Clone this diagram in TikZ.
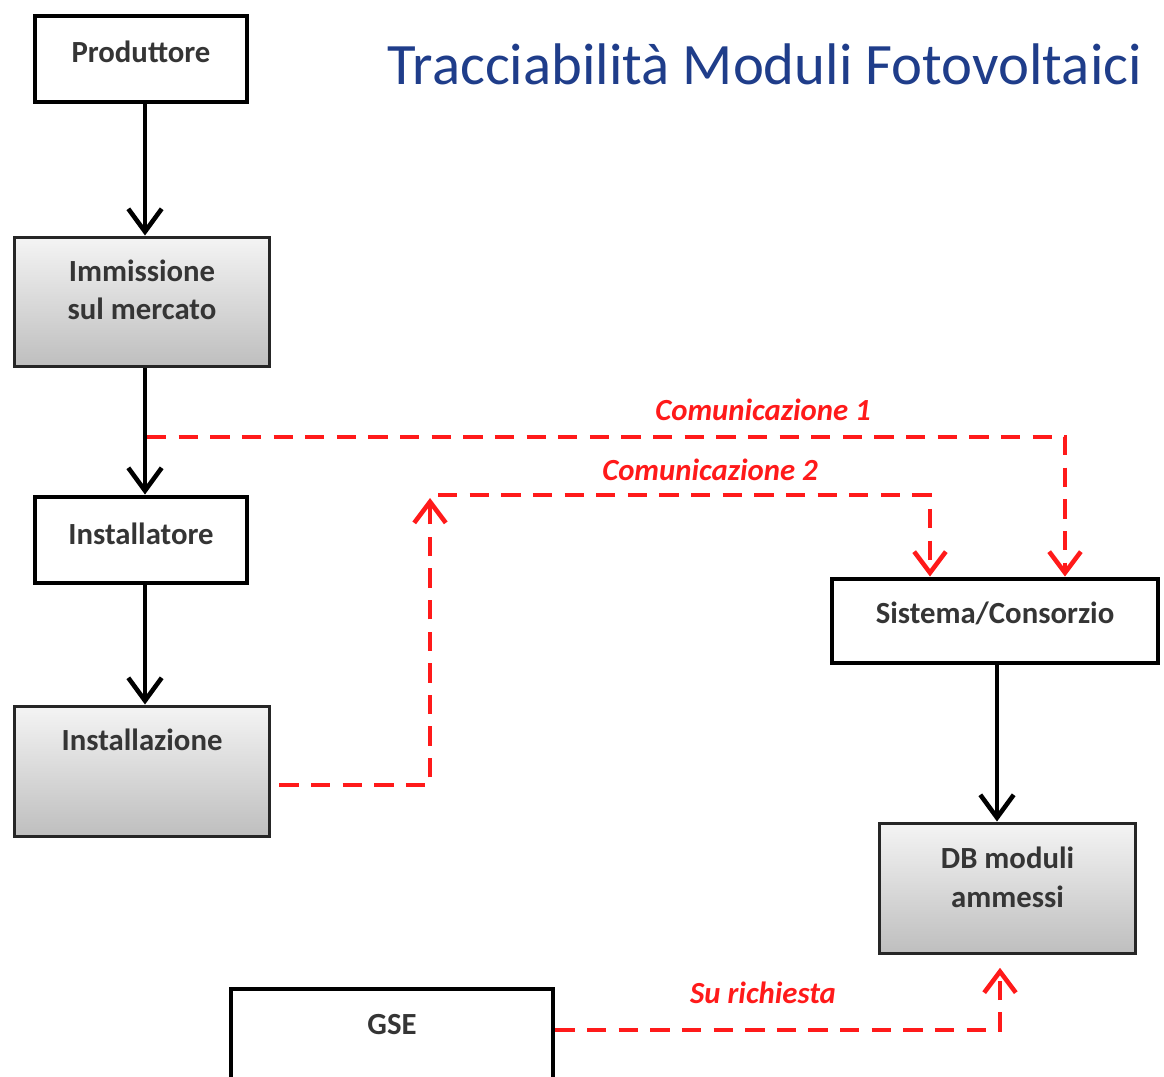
\documentclass[tikz,border=0pt]{standalone}
\usepackage{fontspec}
\setmainfont{Carlito}
\usetikzlibrary{arrows.meta,calc}
\definecolor{titleblue}{HTML}{1F3D8A}
\definecolor{txtgray}{HTML}{353535}
\definecolor{dashred}{HTML}{FF1A1A}
\definecolor{gtop}{HTML}{F4F4F4}
\definecolor{gbot}{HTML}{BEBEBE}
\tikzset{
  whitebox/.style={draw=black, line width=2.8pt, fill=white, inner sep=0pt},
  graybox/.style={draw=black!85, line width=1.7pt, top color=gtop, bottom color=gbot, inner sep=0pt},
  boxtext/.style={text=txtgray, font=\fontsize{17.5}{22}\selectfont\bfseries, align=center, inner sep=0pt},
  redtext/.style={text=dashred, font=\fontsize{17.5}{20}\selectfont\bfseries\itshape, inner sep=0pt},
  flow/.style={draw=black, line width=2.2pt, -{Straight Barb[length=13pt,width=19pt,line width=2.6pt]}},
  rflow/.style={draw=dashred, line width=2.5pt, dash pattern=on 11pt off 7pt,
    -{Straight Barb[length=12pt,width=18pt,line width=2.6pt]}},
}
\begin{document}
\begin{tikzpicture}[x=0.02cm,y=-0.02cm]
\useasboundingbox (0,0) rectangle (1164,1077);
% title
\node[anchor=base, text=titleblue, font=\fontsize{33.4}{40}\selectfont, inner sep=0pt] (title) at (765,85) {Tracciabilità Moduli Fotovoltaici};
% boxes
\node[whitebox, minimum width=4.24cm, minimum height=1.72cm] (prod) at (141,59) {};
\node[boxtext] (prodT) at (141,52) {Produttore};
\node[graybox, minimum width=5.12cm, minimum height=2.6cm] (imm) at (142,302) {};
\node[boxtext] (immT) at (142,290) {Immissione\\sul mercato};
\node[whitebox, minimum width=4.24cm, minimum height=1.72cm] (inst) at (141,540) {};
\node[boxtext] (instT) at (141,534) {Installatore};
\node[graybox, minimum width=5.12cm, minimum height=2.62cm] (instz) at (142,771.5) {};
\node[boxtext] (instzT) at (142,740) {Installazione};
\node[whitebox, minimum width=6.52cm, minimum height=1.68cm] (sis) at (995,621) {};
\node[boxtext] (sisT) at (995,613) {Sistema/Consorzio};
\node[graybox, minimum width=5.14cm, minimum height=2.62cm] (db) at (1007.5,888.5) {};
\node[boxtext] (dbT) at (1007.5,877) {DB moduli\\ammessi};
\node[whitebox, minimum width=6.44cm, minimum height=2.04cm] (gse) at (392,1040) {};
\node[boxtext] (gseT) at (392,1025) {GSE};
% black arrows
\draw[flow] (prod.south -| 145,0) -- (imm.north -| 145,0);
\draw[flow] (imm.south -| 145,0) -- (inst.north -| 145,0);
\draw[flow] (inst.south -| 145,0) -- (instz.north -| 145,0);
\draw[flow] (sis.south -| 997,0) -- (db.north -| 997,0);
% Comunicazione 1
\coordinate (c1s) at (147,437);
\coordinate (c1c) at (1065,437);
\draw[rflow] (c1s) -- (c1c) -- (c1c |- sis.north);
\node[redtext] (c1T) at (763,410) {Comunicazione 1};
% Comunicazione 2
\coordinate (c2s) at (instz.east |- 0,785);
\coordinate (c2c) at (430,785);
\coordinate (c2a) at (430,498);
\draw[rflow] ([xshift=0.16cm]c2s) -- (c2c) -- (c2a);
\coordinate (c2b) at (438,495);
\coordinate (c2d) at (930,495);
\draw[rflow] (c2b) -- (c2d) -- (c2d |- sis.north);
\node[redtext] (c2T) at (710,470) {Comunicazione 2};
% Su richiesta
\coordinate (srs) at (gse.east |- 0,1030);
\coordinate (src) at (1000,1030);
\draw[rflow, shorten >=7pt] (srs) -- (src) -- (src |- db.south);
\node[redtext] (srT) at (763,993) {Su richiesta};
\end{tikzpicture}
\end{document}
